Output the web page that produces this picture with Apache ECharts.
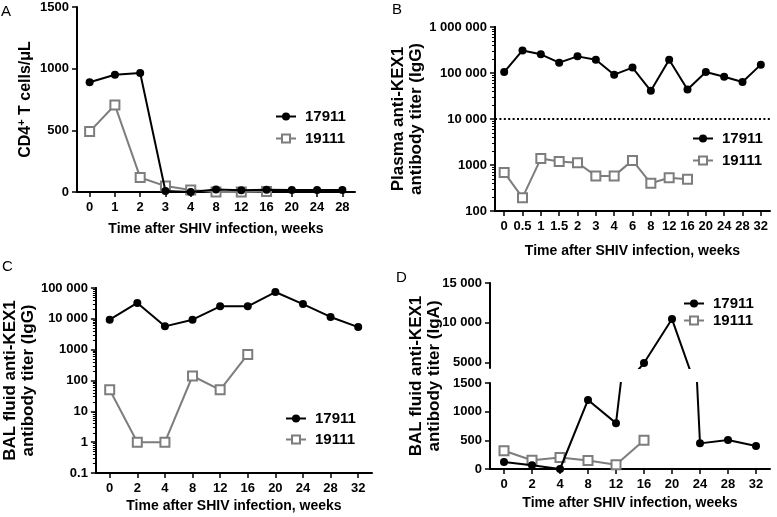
<!DOCTYPE html>
<html>
<head>
<meta charset="utf-8">
<script src="https://cdn.jsdelivr.net/npm/echarts@6/dist/echarts.min.js"></script>
<style>html,body{margin:0;padding:0;background:#fff;}#c{width:777px;height:517px;}</style>
</head>
<body>
<div id="c"></div>
<script>
// ---- Data ----
const weeksA = ['0','1','2','3','4','8','12','16','20','24','28'];
const a17911 = [890, 950, 965, 8, 0, 20, 14, 18, 16, 16, 16];
const a19111 = [490, 705, 118, 48, 16, 0, 0, 4, null, null, null];

const weeksB = ['0','0.5','1','1.5','2','3','4','6','8','12','16','20','24','28','32'];
const b17911 = [105000, 310000, 255000, 168000, 230000, 195000, 92000, 131000, 41000, 195000, 44000, 105000, 83000, 64000, 152000];
const b19111 = [690, 195, 1380, 1190, 1120, 580, 580, 1260, 400, 530, 490, null, null, null, null];
const bThreshold = 10000;

const weeksCD = ['0','2','4','8','12','16','20','24','28','32'];
const c17911 = [9400, 32700, 5700, 9400, 25400, 25400, 74000, 30000, 11500, 5400];
const c19111 = [50, 1, 1, 140, 50, 700, null, null, null, null];

const d17911 = [124, 65, 0, 1205, 800, 4900, 10450, 447, 505, 400];
const d19111 = [318, 153, 200, 147, 76, 500, null, null, null, null];
const dTopTicks = [5000, 10000, 15000];

const xTitle = 'Time after SHIV infection, weeks';

// ---- Styles ----
const FONT = 'Liberation Sans, Arial, sans-serif';
function fmt(v) {
  if (v >= 10000) return String(Math.round(v)).replace(/\B(?=(\d{3})+(?!\d))/g, ' ');
  return String(+Number(v).toPrecision(6));
}
// minor tick positions (log10 of 2..9 x 10^k) for the log axes' minor ticks
function minorExps(lo, hi) {
  const out = [];
  for (let e = lo; e < hi; e++) {
    for (let m = 2; m <= 9; m++) out.push(+(e + Math.log10(m)).toFixed(6));
  }
  return out;
}
const axLine = {show: true, onZero: false, lineStyle: {color: '#000', width: 2}};
const axLabel = {color: '#000', fontWeight: 'bold', fontSize: 13, fontFamily: FONT};
const xNameStyle = {color: '#000', fontWeight: 'bold', fontSize: 14, fontFamily: FONT};
const yNameStyle = {color: '#000', fontWeight: 'bold', fontSize: 17, fontFamily: FONT, lineHeight: 18};

function xAx(grid, data, gap, show) {
  return {
    type: 'category', gridIndex: grid, data: data, show: show !== false,
    boundaryGap: true,
    axisLine: axLine,
    axisTick: {show: true, alignWithLabel: true, length: 5, lineStyle: {color: '#000', width: 1.5}},
    axisLabel: Object.assign({margin: 9, interval: 0}, axLabel),
    name: show === false ? '' : xTitle, nameLocation: 'middle', nameGap: gap,
    nameTextStyle: xNameStyle,
    splitLine: {show: false}
  };
}
function s17(data, xi, yi, extra) {
  return Object.assign({
    type: 'line', name: '17911', xAxisIndex: xi, yAxisIndex: yi, data: data,
    symbol: 'circle', symbolSize: 8, z: 3,
    lineStyle: {color: '#000', width: 2},
    itemStyle: {color: '#000'},
    emphasis: {disabled: true}, clip: true
  }, extra || {});
}
function s19(data, xi, yi) {
  return {
    type: 'line', name: '19111', xAxisIndex: xi, yAxisIndex: yi, data: data,
    symbol: 'rect', symbolSize: 9, z: 2,
    lineStyle: {color: '#7d7d7d', width: 2},
    itemStyle: {color: '#fff', borderColor: '#7d7d7d', borderWidth: 2},
    emphasis: {disabled: true}, clip: true
  };
}
function leg(left, top, gap) {
  return {
    orient: 'vertical', left: left, top: top, itemGap: gap, padding: 0,
    itemWidth: 20, itemHeight: 10, data: ['17911', '19111'],
    selectedMode: false,
    textStyle: {color: '#000', fontWeight: 'bold', fontSize: 15, fontFamily: FONT, padding: [0, 0, 0, 4]}
  };
}
function letter(t, left, top) {
  return {text: t, left: left, top: top, padding: 0,
    textStyle: {fontSize: 15, fontWeight: 'normal', fontFamily: FONT, color: '#000'}};
}
const yTick = {show: true, length: 5, lineStyle: {color: '#000', width: 1.5}};
// overlay axis in exponent space that only draws the small log minor ticks
function minorAxis(grid, lo, hi) {
  const vals = minorExps(lo, hi);
  return {type: 'value', gridIndex: grid, min: lo, max: hi, position: 'left', offset: 0, z: 5,
    axisLine: {show: true, onZero: false, lineStyle: {color: '#000', width: 2}}, splitLine: {show: false},
    axisLabel: {show: false},
    axisTick: {show: true, length: 3, customValues: vals, lineStyle: {color: '#000', width: 1}}};
}

const option = {
  animation: false,
  backgroundColor: '#fff',
  title: [letter('A', 1, 4), letter('B', 392, 2), letter('C', 2, 259), letter('D', 396, 270)],
  legend: [leg(275, 109, 7), leg(692, 131, 7), leg(285, 411, 6), leg(683, 296, 2)],
  grid: [
    {left: 77, top: 7, width: 278, height: 185},
    {left: 495, top: 27, width: 275, height: 184},
    {left: 92, top: 288, width: 280, height: 185},
    {left: 490, top: 383, width: 280, height: 86},
    {left: 490, top: 283, width: 280, height: 85},
    {left: 490, top: 283, width: 280, height: 186}
  ],
  xAxis: [
    xAx(0, weeksA, 30),
    xAx(1, weeksB, 33),
    xAx(2, weeksCD, 26),
    xAx(3, weeksCD, 27),
    xAx(4, weeksCD, 0, false),
    xAx(5, weeksCD, 0, false)
  ],
  yAxis: [
    {type: 'value', gridIndex: 0, min: 0, max: 1500, interval: 500,
     axisLine: axLine, axisTick: yTick, splitLine: {show: false},
     axisLabel: Object.assign({margin: 8, formatter: fmt}, axLabel),
     name: '{b|CD4}{s|+}{b| T cells/μL}', nameLocation: 'middle', nameGap: 41,
     nameTextStyle: {rich: {
       b: {color: '#000', fontWeight: 'bold', fontSize: 16, fontFamily: FONT},
       s: {color: '#000', fontWeight: 'bold', fontSize: 11, fontFamily: FONT, padding: [0, 0, 9, 0]}
     }}},
    {type: 'log', logBase: 10, gridIndex: 1, min: 100, max: 1000000, splitNumber: 4,
     axisLine: axLine, axisTick: yTick, splitLine: {show: false},
     axisLabel: Object.assign({margin: 8, formatter: fmt}, axLabel),
     name: 'Plasma anti-KEX1\nantibody titer (IgG)', nameLocation: 'middle', nameGap: 58,
     nameTextStyle: yNameStyle},
    {type: 'log', logBase: 10, gridIndex: 2, min: 0.1, max: 100000, splitNumber: 6,
     axisLine: axLine, axisTick: yTick, splitLine: {show: false},
     axisLabel: Object.assign({margin: 8, formatter: fmt}, axLabel),
     name: 'BAL fluid anti-KEX1\nantibody titer (IgG)', nameLocation: 'middle', nameGap: 57,
     nameTextStyle: yNameStyle},
    {type: 'value', gridIndex: 3, min: 0, max: 1500, interval: 500,
     axisLine: axLine, axisTick: yTick, splitLine: {show: false},
     axisLabel: Object.assign({margin: 8, formatter: fmt}, axLabel)},
    {type: 'value', gridIndex: 4, min: 4280, max: 15000,
     axisLine: axLine, axisTick: Object.assign({customValues: dTopTicks}, yTick), splitLine: {show: false},
     axisLabel: Object.assign({margin: 8, formatter: fmt, customValues: dTopTicks}, axLabel)},
    {type: 'value', gridIndex: 5, min: 0, max: 1,
     axisLine: {show: false, onZero: false}, axisTick: {show: false}, axisLabel: {show: false}, splitLine: {show: false},
     name: 'BAL fluid anti-KEX1\nantibody titer (IgA)', nameLocation: 'middle', nameGap: 47,
     nameTextStyle: yNameStyle},
    minorAxis(1, 2, 6),
    minorAxis(2, -1, 5)
  ],
  series: [
    s19(a19111, 0, 0), s17(a17911, 0, 0),
    s19(b19111, 1, 1),
    s17(b17911, 1, 1, {markLine: {silent: true, symbol: 'none', label: {show: false},
      lineStyle: {type: [2, 2.4], color: '#000', width: 2},
      data: [{yAxis: bThreshold}]}}),
    s19(c19111, 2, 2), s17(c17911, 2, 2),
    s19(d19111, 3, 3), s17(d17911, 3, 3),
    s17(d17911, 4, 4)
  ]
};
const chart = echarts.init(document.getElementById('c'), null, {renderer: 'canvas'});
chart.setOption(option);
</script>
</body>
</html>
